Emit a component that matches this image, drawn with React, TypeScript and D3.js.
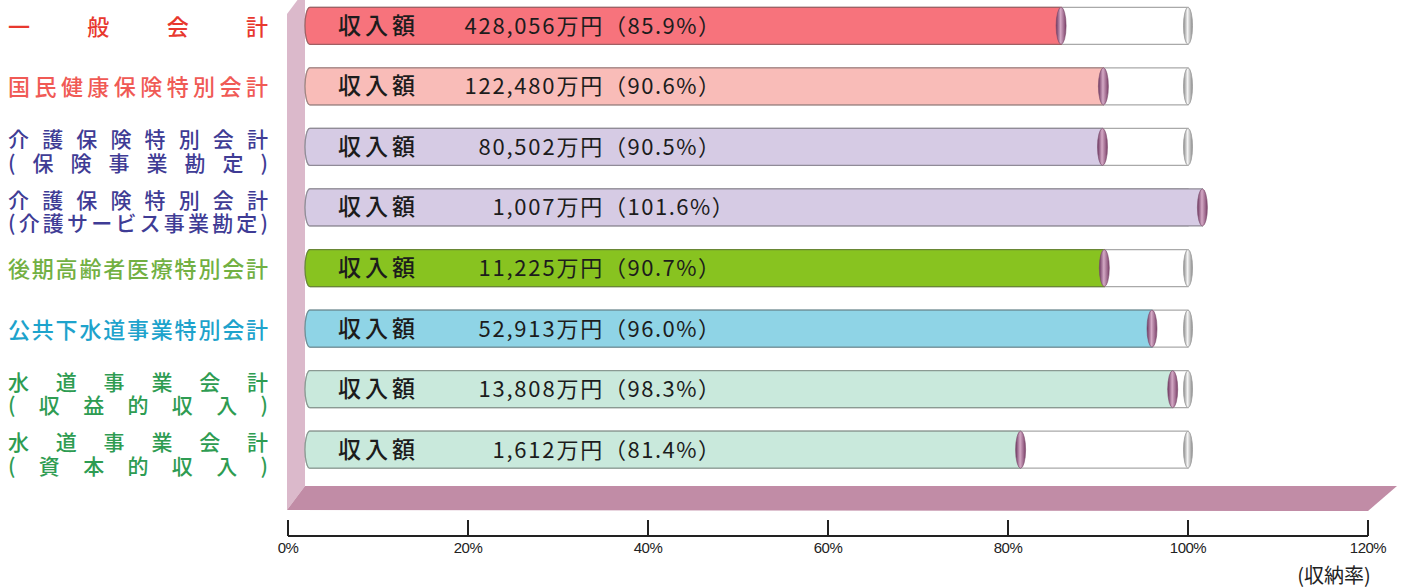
import React from 'react';
import * as d3 from 'd3';

// 会計ごとの収入額と収納率
const categories = [
  'ippan',
  'kokuho',
  'kaigo-hoken',
  'kaigo-service',
  'kouki',
  'gesui',
  'suido-shueki',
  'suido-shihon',
];
const labelLines: string[][] = [
  ['一般会計'],
  ['国民健康保険特別会計'],
  ['介護保険特別会計', '(保険事業勘定)'],
  ['介護保険特別会計', '(介護サービス事業勘定)'],
  ['後期高齢者医療特別会計'],
  ['公共下水道事業特別会計'],
  ['水道事業会計', '(収益的収入)'],
  ['水道事業会計', '(資本的収入)'],
];
const amounts = [428056, 122480, 80502, 1007, 11225, 52913, 13808, 1612];
const rates = [85.9, 90.6, 90.5, 101.6, 90.7, 96.0, 98.3, 81.4];
const barColors = ['#f7737c', '#f9bcb8', '#d6cbe4', '#d6cbe4', '#88c320', '#8fd4e6', '#c9e9dc', '#c9e9dc'];
const labelColors = ['#e8382e', '#f05a55', '#3f3c95', '#3f3c95', '#72b043', '#1ea3cc', '#2e9c52', '#2e9c52'];
const xTicks = [0, 20, 40, 60, 80, 100, 120];

const W = 1405;
const H = 588;
const FONT = '"Noto Sans CJK JP", "Noto Sans", sans-serif';

const x = d3.scaleLinear().domain([0, 120]).range([288, 1368]);
const y = d3.scaleBand<string>().domain(categories).range([-4.5, 480]);

const BAR_H = 37;
const BAR_X0 = 305;
const CAP_RX = 5;

// left-rounded bar outline
const barPath = (x0: number, x1: number, cy: number) => {
  const top = cy - BAR_H / 2;
  const bot = cy + BAR_H / 2;
  const p = d3.path();
  p.moveTo(x0 + CAP_RX, top);
  p.lineTo(x1, top);
  p.lineTo(x1, bot);
  p.lineTo(x0 + CAP_RX, bot);
  return p.toString() + ` A ${CAP_RX} ${BAR_H / 2} 0 0 1 ${x0 + CAP_RX} ${top} Z`;
};

const App: React.FC = () => {
  const fmt = d3.format(',');
  const axisY = 536;

  return (
    <div style={{ position: 'absolute', left: 0, top: 0 }}>
      <svg width={W} height={H} style={{ display: 'block', background: '#fff' }} fontFamily={FONT}>
        <defs>
          <linearGradient id="capMauve" x1="0" x2="1" y1="0" y2="0">
            <stop offset="0%" stopColor="#6c3560" />
            <stop offset="45%" stopColor="#d4a9c5" />
            <stop offset="100%" stopColor="#7b4069" />
          </linearGradient>
          <linearGradient id="capGray" x1="0" x2="1" y1="0" y2="0">
            <stop offset="0%" stopColor="#8a8a8a" />
            <stop offset="45%" stopColor="#f4f4f4" />
            <stop offset="100%" stopColor="#8c8c8c" />
          </linearGradient>
        </defs>

        {/* 3D wall and floor */}
        <polygon points={`287,510 287,14 305,-10 305,486`} fill="#dbb9cb" />
        <polygon points={`287,510 305,486 1397,486 1368,511`} fill="#c18ca6" />

        {/* bars */}
        {categories.map((c, i) => {
          const cy = (y(c) ?? 0) + y.bandwidth() / 2;
          const xEnd = x(rates[i]);
          const x100 = x(100);
          const stroke = d3.interpolateRgb(barColors[i], '#4a4a4a')(0.5);
          return (
            <g key={c}>
              <path d={barPath(BAR_X0, x100, cy)} fill="#fff" stroke="#a9a9a9" strokeWidth={1.2} />
              <ellipse cx={x100} cy={cy} rx={4.5} ry={BAR_H / 2} fill="url(#capGray)" stroke="#9a9a9a" strokeWidth={0.8} />
              <path d={barPath(BAR_X0, xEnd, cy)} fill={barColors[i]} stroke={stroke} strokeWidth={1.2} />
              <ellipse cx={xEnd} cy={cy} rx={CAP_RX} ry={BAR_H / 2} fill="url(#capMauve)" stroke="#7a4a6a" strokeWidth={0.6} />
              <text x={338} y={cy + 8} fontSize={23} letterSpacing={4} fill="#1c1c1c" fontWeight={500}>
                収入額
              </text>
              <text x={604} y={cy + 8} fontSize={22} letterSpacing={1.8} fill="#1c1c1c" textAnchor="end">
                {fmt(amounts[i])}万円
              </text>
              <text x={604} y={cy + 8} fontSize={22} letterSpacing={1.5} fill="#1c1c1c">
                （{rates[i].toFixed(1)}%）
              </text>
            </g>
          );
        })}

        {/* category labels */}
        {categories.map((c, i) => {
          const cy = (y(c) ?? 0) + y.bandwidth() / 2;
          const lines = labelLines[i];
          const base = lines.length === 1 ? [cy + 9] : [cy + 0.5, cy + 24];
          return (
            <g key={c + '-label'}>
              {lines.map((t, j) => (
                <text
                  key={j}
                  x={8}
                  y={base[j]}
                  fontSize={lines.length === 1 ? 22 : 21}
                  fill={labelColors[i]}
                  fontWeight={500}
                  textLength={260}
                  lengthAdjust="spacing"
                >
                  {t}
                </text>
              ))}
            </g>
          );
        })}

        {/* x axis */}
        <line x1={x(0)} x2={x(120)} y1={axisY} y2={axisY} stroke="#222" strokeWidth={2} />
        {xTicks.map((t) => (
          <g key={t}>
            <line x1={x(t)} x2={x(t)} y1={axisY} y2={axisY - 16} stroke="#222" strokeWidth={2} />
            <text x={x(t)} y={553} fontSize={15} textAnchor="middle" fill="#222" letterSpacing={-0.5} fontFamily='"Liberation Sans", sans-serif'>
              {t}%
            </text>
          </g>
        ))}
        <text x={1334} y={583} fontSize={20} textAnchor="middle" fill="#222">
          (収納率)
        </text>
      </svg>
    </div>
  );
};

export default App;
